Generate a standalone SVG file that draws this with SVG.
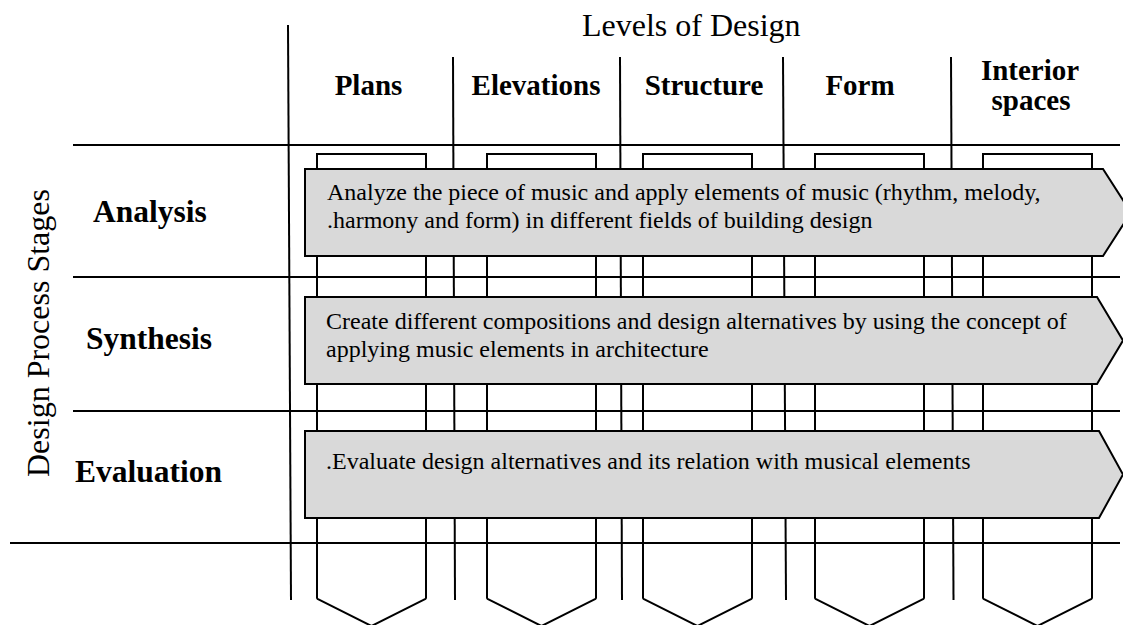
<svg xmlns="http://www.w3.org/2000/svg" width="1123" height="625" viewBox="0 0 1123 625">
<style>
.ln{stroke:#000;stroke-width:2;fill:none}
.pent{stroke:#000;stroke-width:2;fill:none}
.arr{fill:#d9d9d9;stroke:#000;stroke-width:2}
.hd{font-family:"Liberation Serif","Times New Roman",serif;font-weight:bold;font-size:29px;fill:#000;text-anchor:middle}
.rl{font-family:"Liberation Serif","Times New Roman",serif;font-weight:bold;font-size:31.5px;fill:#000}
.tt{font-family:"Liberation Serif","Times New Roman",serif;font-size:32px;fill:#000}
.bt{font-family:"Liberation Serif","Times New Roman",serif;font-size:24px;fill:#000}
</style>
<rect width="1123" height="625" fill="#fff"/>
<g id="columns">
<g id="col-plans"><path class="pent" d="M317,598.7 L317,154 L426,154 L426,598.7 M317,598.7 L371.5,626 L426,598.7"/></g>
<g id="col-elevations"><path class="pent" d="M487,598.7 L487,154 L596,154 L596,598.7 M487,598.7 L541.5,626 L596,598.7"/></g>
<g id="col-structure"><path class="pent" d="M643,598.7 L643,154 L752,154 L752,598.7 M643,598.7 L697.5,626 L752,598.7"/></g>
<g id="col-form"><path class="pent" d="M815,598.7 L815,154 L924,154 L924,598.7 M815,598.7 L869.5,626 L924,598.7"/></g>
<g id="col-interior"><path class="pent" d="M983,598.7 L983,154 L1092,154 L1092,598.7 M983,598.7 L1037.5,626 L1092,598.7"/></g>
</g>
<g id="connectors">
<line class="ln" x1="288" y1="25" x2="291" y2="600"/>
<line class="ln" x1="453" y1="57" x2="455" y2="600"/>
<line class="ln" x1="620" y1="57" x2="622" y2="600"/>
<line class="ln" x1="783" y1="57" x2="786" y2="600"/>
<line class="ln" x1="951" y1="57" x2="953.5" y2="600"/>
<line class="ln" x1="73" y1="145" x2="1120" y2="145"/>
<line class="ln" x1="73" y1="277" x2="1120" y2="277"/>
<line class="ln" x1="73" y1="411" x2="1120" y2="411"/>
<line class="ln" x1="10" y1="543" x2="1120" y2="543"/>
</g>
<g id="arrow-analysis">
<polygon class="arr" points="305,169 1103,169 1131,212.5 1103,256 305,256"/>
<text class="bt" x="327" y="200">Analyze the piece of music and apply elements of music (rhythm, melody,</text>
<text class="bt" x="327" y="228">.harmony and form) in different fields of building design</text>
</g>
<g id="arrow-synthesis">
<polygon class="arr" points="305,297 1097,297 1123,340.5 1097,384 305,384"/>
<text class="bt" x="326" y="329">Create different compositions and design alternatives by using the concept of</text>
<text class="bt" x="326" y="357">applying music elements in architecture</text>
</g>
<g id="arrow-evaluation">
<polygon class="arr" points="305,431 1099,431 1123,474.5 1099,518 305,518"/>
<text class="bt" x="326" y="469">.Evaluate design alternatives and its relation with musical elements</text>
</g>
<g id="title-levels"><text class="tt" x="582" y="36">Levels of Design</text></g>
<g id="title-stages"><text class="tt" transform="translate(49,333) rotate(-90)" text-anchor="middle">Design Process Stages</text></g>
<g id="hd-plans"><text class="hd" x="368.5" y="95">Plans</text></g>
<g id="hd-elevations"><text class="hd" x="536" y="95">Elevations</text></g>
<g id="hd-structure"><text class="hd" x="704" y="95">Structure</text></g>
<g id="hd-form"><text class="hd" x="860" y="95">Form</text></g>
<g id="hd-interior"><text class="hd" x="1030" y="80">Interior</text><text class="hd" x="1031" y="110">spaces</text></g>
<g id="row-analysis"><text class="rl" x="93" y="222">Analysis</text></g>
<g id="row-synthesis"><text class="rl" x="86" y="349">Synthesis</text></g>
<g id="row-evaluation"><text class="rl" x="75" y="482">Evaluation</text></g>
</svg>
